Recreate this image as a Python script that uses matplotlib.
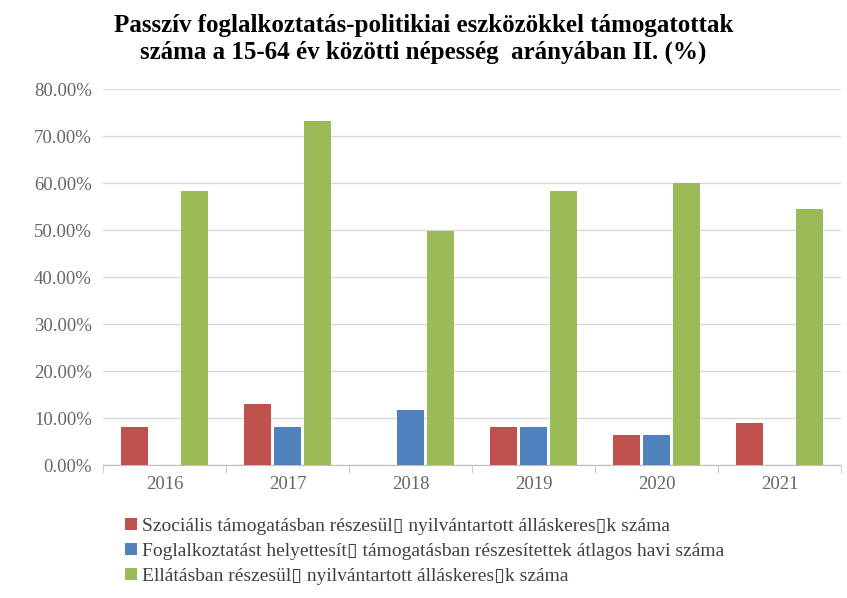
import matplotlib
matplotlib.use("Agg")
import matplotlib.pyplot as plt
from matplotlib.ticker import PercentFormatter
import numpy as np

# data (fractions)
years = ["2016", "2017", "2018", "2019", "2020", "2021"]
szocialis = [0.081, 0.130, 0.0, 0.081, 0.064, 0.089]
helyettesito = [0.0, 0.081, 0.117, 0.081, 0.064, 0.0]
ellatas = [0.583, 0.732, 0.498, 0.583, 0.600, 0.545]

series_names = [
    "Szociális támogatásban részesül\u25af nyilvántartott álláskeres\u25afk száma",
    "Foglalkoztatást helyettesít\u25af támogatásban részesítettek átlagos havi száma",
    "Ellátásban részesül\u25af nyilvántartott álláskeres\u25afk száma",
]
colors = ["#C0504D", "#4F81BD", "#9BBB59"]

plt.rcParams["font.family"] = ["Liberation Serif", "DejaVu Serif"]

fig = plt.figure(figsize=(8.47, 5.98), dpi=100)
ax = fig.add_axes([0.1216, 0.2224, 0.8714, 0.6286])

x = np.arange(len(years))
width = 0.22
step = 0.245
for i, (vals, name, col) in enumerate(zip([szocialis, helyettesito, ellatas], series_names, colors)):
    ax.bar(x + (i - 1) * step, vals, width, color=col, label=name, zorder=3)

ax.set_xlim(-0.5, len(years) - 0.5)
ax.set_ylim(0, 0.8)
ax.set_yticks(np.arange(0, 0.81, 0.1))
ax.yaxis.set_major_formatter(PercentFormatter(1.0, decimals=2))
ax.grid(axis="y", color="#D9D9D9", linewidth=1, zorder=0)

ax.set_xticks(x)
ax.set_xticklabels(years)
ax.set_xticks(np.arange(-0.5, len(years), 1), minor=True)
ax.tick_params(axis="x", which="major", length=0, pad=8, labelsize=13.5, labelcolor="#666666")
ax.tick_params(axis="x", which="minor", length=6, color="#BFBFBF")
ax.tick_params(axis="y", length=0, labelsize=13.5, labelcolor="#666666", pad=8)

for s in ["top", "right", "left"]:
    ax.spines[s].set_visible(False)
ax.spines["bottom"].set_color("#BFBFBF")

fig.suptitle("Passzív foglalkoztatás-politikiai eszközökkel támogatottak\n"
             "száma a 15-64 év közötti népesség  arányában II. (%)",
             fontsize=18, fontweight="bold", x=0.5, y=0.977, linespacing=1.2)

fig.legend(loc="upper left", bbox_to_anchor=(0.136, 0.15), frameon=False,
           fontsize=14, handlelength=0.6, handleheight=0.6, handletextpad=0.3,
           labelspacing=0.4, borderpad=0, labelcolor="#404040")

fig.savefig("out.png", dpi=100)
